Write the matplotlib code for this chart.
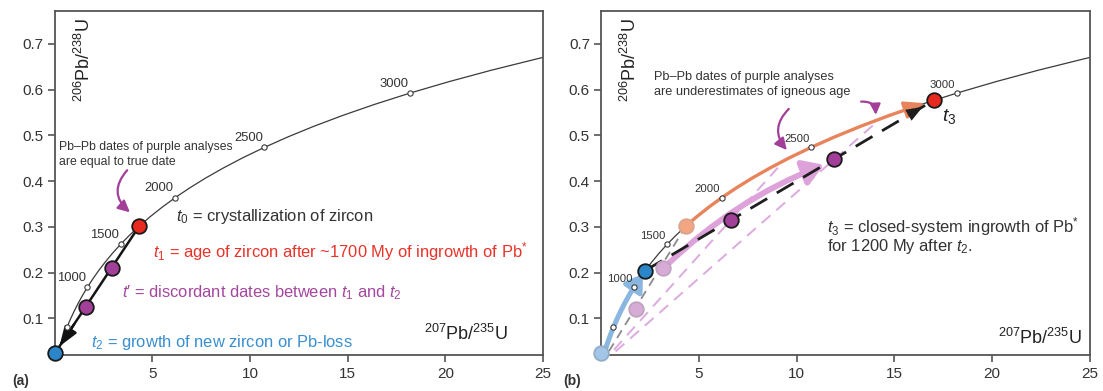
import matplotlib
matplotlib.use('Agg')
import matplotlib.pyplot as plt
from matplotlib.patches import FancyArrowPatch

plt.rcParams['font.family'] = ['Liberation Sans', 'DejaVu Sans']
plt.rcParams['mathtext.fontset'] = 'custom'
plt.rcParams['mathtext.rm'] = 'Liberation Sans'
plt.rcParams['mathtext.it'] = 'Liberation Sans:italic'
plt.rcParams['mathtext.bf'] = 'Liberation Sans:bold'

# ---------------- data ----------------
# concordia curve (age in Ma, 207Pb/235U, 206Pb/238U)
conc_age = [0, 100, 200, 300, 400, 500, 600, 700, 800, 900, 1000, 1100, 1200, 1300,
            1400, 1500, 1600, 1700, 1800, 1900, 2000, 2100, 2200, 2300, 2400, 2500,
            2600, 2700, 2800, 2900, 3000, 3100, 3200, 3300, 3310]
conc_x = [0, 0.104, 0.218, 0.344, 0.483, 0.636, 0.806, 0.993, 1.199, 1.426, 1.677,
          1.955, 2.260, 2.598, 2.970, 3.381, 3.835, 4.335, 4.887, 5.497, 6.169, 6.910,
          7.730, 8.633, 9.630, 10.730, 11.944, 13.283, 14.762, 16.393, 18.192, 20.179,
          22.373, 24.790, 25.05]
conc_y = [0, 0.0156, 0.0315, 0.0476, 0.0640, 0.0807, 0.0975, 0.1147, 0.1321, 0.1498,
          0.1678, 0.1860, 0.2046, 0.2234, 0.2426, 0.2620, 0.2817, 0.3018, 0.3221,
          0.3428, 0.3638, 0.3851, 0.4068, 0.4287, 0.4511, 0.4737, 0.4968, 0.5202,
          0.5440, 0.5681, 0.5926, 0.6175, 0.6428, 0.6685, 0.6711]
tick_ages = [500, 1000, 1500, 2000, 2500, 3000]
tick_labels_a = ['', '1000', '1500', '2000', '2500', '3000']
tick_labels_b = ['', '1000', '1500', '2000', '2500', '3000']

x_ticks = [5, 10, 15, 20, 25]
y_ticks = [0.1, 0.2, 0.3, 0.4, 0.5, 0.6, 0.7]

# panel (a)
a_t1 = (4.335, 0.3018)
a_t2 = (0.02, 0.024)
a_disc_x = [1.60, 2.93]
a_disc_y = [0.125, 0.211]

# panel (b)
b_t1_faded = (4.335, 0.3018)
b_t2_faded = (0.02, 0.024)
b_disc_faded_x = [1.79, 3.15]
b_disc_faded_y = [0.120, 0.210]
b_t2 = (2.260, 0.2046)
b_t3 = (17.0, 0.5766)
b_disc_x = [6.63, 11.90]
b_disc_y = [0.3149, 0.4479]
b_pbpb_x = [9.40, 14.30]   # Pb-Pb dates (intersection of origin line with concordia)
b_pbpb_y = [0.4465, 0.5370]

# colours
DARK = '#333333'
RED = '#e8291f'
PURPLE = '#a23f98'
BLUE = '#2b86c9'
TXT_RED = '#e8332a'
TXT_PURPLE = '#a4489e'
TXT_BLUE = '#3a8fd1'
BIG = 11.9

fig = plt.figure(figsize=(11.03, 3.91), dpi=100)
axA = fig.add_axes([54.5 / 1103, 0.0908, 488.5 / 1103, 0.881])
axB = fig.add_axes([601 / 1103, 0.0908, 489 / 1103, 0.881])


def setup(ax):
    ax.set_xlim(0, 25)
    ax.set_ylim(0.019, 0.772)
    ax.set_xticks(x_ticks)
    ax.set_yticks(y_ticks)
    ax.set_yticklabels([f'{v:.1f}' for v in y_ticks])
    ax.tick_params(direction='out', length=5, width=1.2, colors='#555555',
                   labelcolor=DARK, labelsize=11, pad=3)
    for s in ax.spines.values():
        s.set_color('#555555')
        s.set_linewidth(1.3)
    ax.text(0.06 * 25, 0.757, r'$^{206}$Pb/$^{238}$U', rotation=90, ha='center', va='top',
            fontsize=13, color='#222222')


def concordia(ax, labels, lsize):
    ax.plot(conc_x, conc_y, color='#3a3a3a', lw=0.9, zorder=2)
    for age, lab in zip(tick_ages, labels):
        i = conc_age.index(age)
        ax.plot(conc_x[i], conc_y[i], 'o', ms=3.8, mfc='white', mec='#3a3a3a', mew=0.8,
                zorder=7)
        if lab:
            ax.annotate(lab, (conc_x[i], conc_y[i]), xytext=(-1, 2.5), textcoords='offset points',
                        ha='right', va='bottom', fontsize=lsize, color=DARK, zorder=8)


def dot(ax, xy, fc, ec='#1a1a1a', ms=10.5, z=9):
    ax.plot(xy[0], xy[1], 'o', ms=ms, mfc=fc, mec=ec, mew=1.3, zorder=z, clip_on=False)


# ---------------- panel (a) ----------------
setup(axA)
concordia(axA, tick_labels_a, 9.4)
axA.plot([a_t1[0], a_t2[0]], [a_t1[1], a_t2[1]], color='#151515', lw=1.8, zorder=3)
axA.annotate('', xy=(0.25, 0.024 + 0.23 * 0.0643), xytext=(1.0, 0.024 + 0.98 * 0.0643),
             arrowprops=dict(arrowstyle='-|>,head_length=0.85,head_width=0.3', color='#111111',
                             lw=1.8, shrinkA=0, shrinkB=0, mutation_scale=14), zorder=4)
dot(axA, a_t1, RED)
for x, y in zip(a_disc_x, a_disc_y):
    dot(axA, (x, y), PURPLE)
dot(axA, a_t2, BLUE)

axA.text(0.25, 0.474, 'Pb–Pb dates of purple analyses', fontsize=8.8, color=DARK,
         ha='left', va='center')
axA.text(0.25, 0.442, 'are equal to true date', fontsize=8.8, color=DARK,
         ha='left', va='center')
axA.add_patch(FancyArrowPatch((3.72, 0.424), (3.86, 0.332), connectionstyle='arc3,rad=0.5',
                              arrowstyle='-|>,head_length=0.5,head_width=0.25', color=PURPLE,
                              lw=1.6, mutation_scale=14, shrinkA=0, shrinkB=0, zorder=6))

axA.text(6.2, 0.323, r'$t_0$ = crystallization of zircon', fontsize=BIG, color=DARK,
         ha='left', va='center')
axA.text(5.05, 0.246, r'$t_1$ = age of zircon after ~1700 My of ingrowth of Pb$^{*}$',
         fontsize=BIG, color=TXT_RED, ha='left', va='center')
axA.text(3.45, 0.156, r"$t$′ = discordant dates between $t_1$ and $t_2$", fontsize=BIG,
         color=TXT_PURPLE, ha='left', va='center')
axA.text(1.85, 0.048, r'$t_2$ = growth of new zircon or Pb-loss', fontsize=BIG,
         color=TXT_BLUE, ha='left', va='center')
axA.text(23.2, 0.066, r'$^{207}$Pb/$^{235}$U', fontsize=13, color='#222222',
         ha='right', va='center')
fig.text(12 / 1103, 0.026, '(a)', fontsize=10, fontweight='bold', color=DARK,
         ha='left', va='center')

# ---------------- panel (b) ----------------
setup(axB)
concordia(axB, tick_labels_b, 8.2)

# old discordia (grey dashed)
axB.plot([0, b_t1_faded[0]], [0, b_t1_faded[1]], color='#8a8a8a', lw=1.3,
         dashes=(5, 3.5), zorder=3)
# Pb-Pb lines from origin through purple analyses
for x, y in zip(b_pbpb_x, b_pbpb_y):
    axB.plot([0, x], [0, y], color='#dcaade', lw=1.4, dashes=(6, 4), zorder=3)

# blue growth arrow along concordia
i1000 = conc_age.index(1000)
axB.plot(conc_x[:i1000 + 1], conc_y[:i1000 + 1], color='#8ab7e0', lw=3.6,
         solid_capstyle='round', zorder=3)
axB.annotate('', xy=(2.15, 0.1976), xytext=(1.66, 0.1668),
             arrowprops=dict(arrowstyle='-|>,head_length=0.7,head_width=0.45', color='#8ab7e0',
                             lw=3.6, shrinkA=0, shrinkB=0, mutation_scale=14), zorder=3)

# orange growth along concordia
i1700 = conc_age.index(1700)
i2800 = conc_age.index(2800)
axB.plot(conc_x[i1700:i2800 + 1], conc_y[i1700:i2800 + 1], color='#e8845c', lw=2.4,
         solid_capstyle='round', zorder=4)
axB.annotate('', xy=(16.55, 0.5706), xytext=(14.762, 0.5440),
             arrowprops=dict(arrowstyle='-|>,head_length=0.8,head_width=0.35', color='#e8845c',
                             lw=2.4, shrinkA=0, shrinkB=0, mutation_scale=15), zorder=4)

# pink ingrowth arrow of purple analyses
axB.add_patch(FancyArrowPatch((b_disc_faded_x[1] + 0.2, b_disc_faded_y[1] + 0.006),
                              (b_disc_x[1] - 0.5, b_disc_y[1] - 0.012),
                              connectionstyle='arc3,rad=-0.1',
                              arrowstyle='-|>,head_length=0.6,head_width=0.38',
                              color='#dea2da', lw=4.2, mutation_scale=20, shrinkA=0,
                              shrinkB=0, zorder=4))

# new discordia (black dashed)
axB.plot([b_t2[0], b_t3[0]], [b_t2[1], b_t3[1]], color='#1e1e1e', lw=2.0,
         dashes=(7, 4), zorder=5)
sl = (b_t3[1] - b_t2[1]) / (b_t3[0] - b_t2[0])
axB.annotate('', xy=(16.45, b_t2[1] + (16.45 - b_t2[0]) * sl),
             xytext=(15.4, b_t2[1] + (15.4 - b_t2[0]) * sl),
             arrowprops=dict(arrowstyle='-|>,head_length=0.8,head_width=0.3', color='#1e1e1e',
                             lw=0.01, shrinkA=0, shrinkB=0, mutation_scale=15), zorder=5)

# dots
dot(axB, b_t1_faded, '#f4a682', ec='#d9a58e')
for x, y in zip(b_disc_faded_x, b_disc_faded_y):
    dot(axB, (x, y), '#d6abd6', ec='#bfa3bf')
dot(axB, b_t2_faded, '#a3c6e8', ec='#93adc6')
dot(axB, b_t2, BLUE)
for x, y in zip(b_disc_x, b_disc_y):
    dot(axB, (x, y), PURPLE)
dot(axB, b_t3, RED)

axB.text(17.45, 0.542, r'$t_3$', fontsize=14, color='#222222', ha='left', va='center')

axB.text(2.7, 0.628, 'Pb–Pb dates of purple analyses', fontsize=9.2, color=DARK,
         ha='left', va='center')
axB.text(2.7, 0.594, 'are underestimates of igneous age', fontsize=9.2, color=DARK,
         ha='left', va='center')
axB.add_patch(FancyArrowPatch((9.6, 0.558), (9.5, 0.468), connectionstyle='arc3,rad=0.45',
                              arrowstyle='-|>,head_length=0.5,head_width=0.25', color=PURPLE,
                              lw=1.6, mutation_scale=14, shrinkA=0, shrinkB=0, zorder=6))
axB.add_patch(FancyArrowPatch((13.3, 0.574), (14.05, 0.545), connectionstyle='arc3,rad=-0.5',
                              arrowstyle='-|>,head_length=0.45,head_width=0.22', color=PURPLE,
                              lw=1.6, mutation_scale=14, shrinkA=0, shrinkB=0, zorder=6))

axB.text(11.55, 0.300, r'$t_3$ = closed-system ingrowth of Pb$^{*}$', fontsize=BIG,
         color=DARK, ha='left', va='center')
axB.text(11.55, 0.257, r'for 1200 My after $t_2$.', fontsize=BIG, color=DARK,
         ha='left', va='center')
axB.text(24.6, 0.057, r'$^{207}$Pb/$^{235}$U', fontsize=13, color='#222222',
         ha='right', va='center')
fig.text(563 / 1103, 0.026, '(b)', fontsize=10, fontweight='bold', color=DARK,
         ha='left', va='center')

fig.savefig('out.png', dpi=100)
